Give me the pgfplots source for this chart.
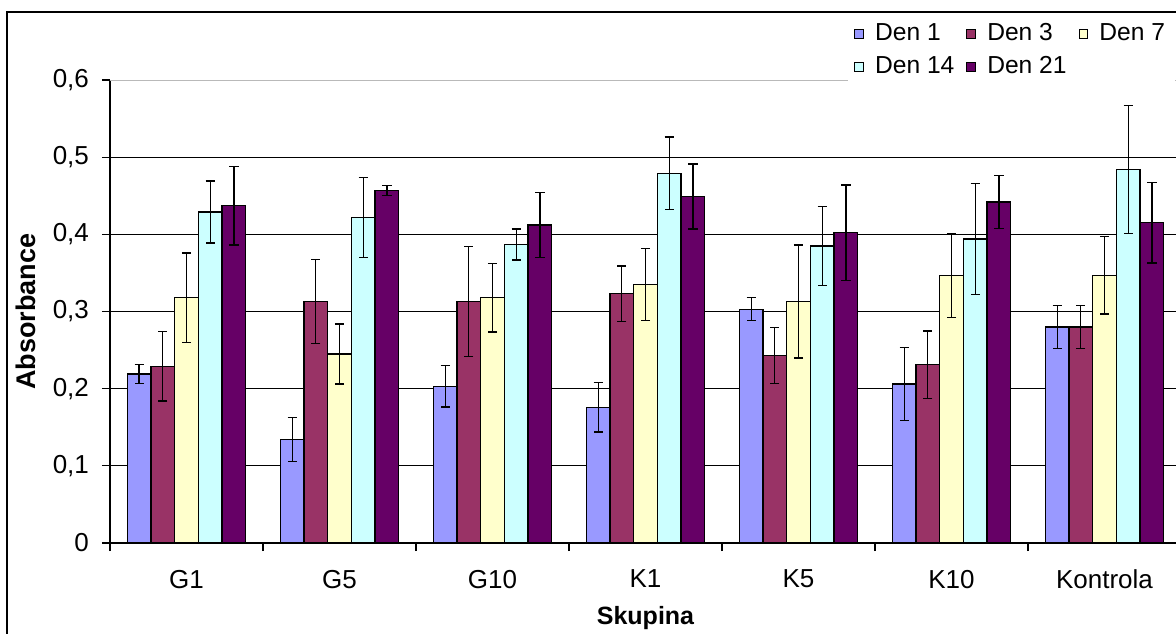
\documentclass[border=0pt]{standalone}
\usepackage{fontspec}
\setmainfont{Liberation Sans}
\usepackage{pgfplots}
\usepackage{pgfplotstable}
\pgfplotsset{compat=1.18}
\definecolor{den1}{RGB}{153,153,255}
\definecolor{den3}{RGB}{153,51,102}
\definecolor{den7}{RGB}{255,255,204}
\definecolor{den14}{RGB}{204,255,255}
\definecolor{den21}{RGB}{102,0,102}
\pgfplotsset{sqlegend/.style={legend image code/.code={\draw[##1,draw=black,line width=0.5pt] (0pt,-2.2pt) rectangle (4.4pt,2.2pt);}}}
\pgfplotstableread{
x  d1     e1      d3     e3      d7     e7      d14    e14    d21    e21
0  0.219  0.0125  0.229  0.045   0.318  0.058   0.429  0.040  0.437  0.051
1  0.134  0.0285  0.313  0.0545  0.245  0.039   0.422  0.052  0.457  0.0063
2  0.203  0.027   0.313  0.071   0.318  0.0445  0.387  0.020  0.412  0.042
3  0.176  0.032   0.323  0.036   0.335  0.047   0.479  0.047  0.449  0.042
4  0.303  0.015   0.243  0.036   0.313  0.073   0.385  0.051  0.402  0.062
5  0.206  0.047   0.231  0.0437  0.347  0.0544  0.394  0.072  0.442  0.0345
6  0.280  0.028   0.280  0.028   0.347  0.050   0.484  0.083  0.415  0.052
}\datatable
\begin{document}
\begin{tikzpicture}
\begin{axis}[
  at={(55pt,45pt)}, anchor=south west,
  scale only axis, width=535.5pt, height=231.5pt,
  xmin=-0.5, xmax=6.5, ymin=0, ymax=0.6,
  axis x line=bottom, axis y line=left,
  axis line style={-, line width=0.7pt, black},
  ybar=0pt, bar width=11.85pt,
  xtick={0,...,6},
  xticklabels={G1,G5,G10,K1,K5,K10,Kontrola},
  minor xtick={-0.5,0.5,...,6.5},
  major x tick style={draw=none},
  minor x tick style={black, line width=0.6pt},
  ytick={0,0.1,0.2,0.3,0.4,0.5},
  extra y ticks={0.6},
  extra y tick style={major grid style={gray!55, line width=0.5pt}},
  ymajorgrids, major grid style={black, line width=0.6pt},
  tick align=outside, major tick length=4pt, minor tick length=4pt,
  y tick style={black, line width=0.6pt},
  yticklabel style={/pgf/number format/.cd, fixed, precision=1, use comma, /tikz/.cd, xshift=-3pt},
  xticklabel style={yshift=-6pt},
  tick label style={font=\fontsize{13}{15}\selectfont},
  /pgf/number format/assume math mode=true,
  ylabel={Absorbance},
  every axis y label/.style={at={(axis description cs:-0.0784,0.5)}, rotate=90, anchor=center, font=\fontsize{13.5}{16}\selectfont\bfseries},
  xlabel={Skupina},
  every axis x label/.style={at={(axis description cs:0.5,-0.175)}, anchor=base, font=\fontsize{12.5}{15}\selectfont\bfseries},
  legend style={draw=none, fill=white, at={(0.689,1.14)}, anchor=north west,
    legend columns=3, font=\fontsize{12.3}{14.5}\selectfont, row sep=2.5pt,
    /tikz/every odd column/.append style={column sep=3.5pt},
    /tikz/every even column/.append style={column sep=4pt}},
  legend cell align=left,
  error bars/y dir=both, error bars/y explicit,
  error bars/error mark options={black, mark size=2.3pt, line width=0.7pt, rotate=90},
  error bars/error bar style={black, line width=0.6pt},
]
\addplot[fill=den1, draw=black, line width=0.6pt, sqlegend] table[x=x, y=d1, y error=e1] {\datatable};
\addplot[fill=den3, draw=black, line width=0.6pt, sqlegend] table[x=x, y=d3, y error=e3] {\datatable};
\addplot[fill=den7, draw=black, line width=0.6pt, sqlegend] table[x=x, y=d7, y error=e7] {\datatable};
\addplot[fill=den14, draw=black, line width=0.6pt, sqlegend] table[x=x, y=d14, y error=e14] {\datatable};
\addplot[fill=den21, draw=black, line width=0.6pt, sqlegend] table[x=x, y=d21, y error=e21] {\datatable};
\legend{Den 1, Den 3, Den 7, Den 14, Den 21}
\end{axis}
\draw[line width=0.75pt, black] (610pt,310.5pt) -- (3.5pt,310.5pt) -- (3.5pt,-20pt);
\pgfresetboundingbox
\useasboundingbox (0pt,0pt) rectangle (588pt,316.5pt);
\end{tikzpicture}
\end{document}
